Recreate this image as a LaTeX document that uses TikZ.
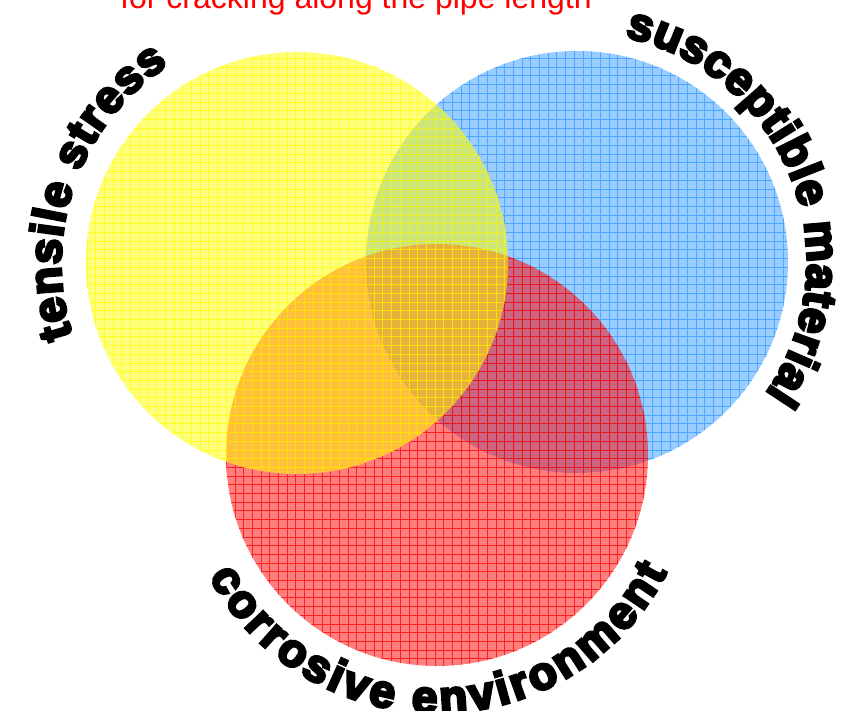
\documentclass[tikz,border=0pt]{standalone}
\usepackage{fontspec}
\setsansfont{Liberation Sans}
\newfontfamily\labelfont{Liberation Sans}[BoldFeatures={FakeBold=6}]
\usetikzlibrary{decorations.text,positioning}
\definecolor{StressYellow}{HTML}{FFFF00}
\definecolor{MaterialBlue}{HTML}{3399FF}
\definecolor{CorrRed}{HTML}{FF0000}

\begin{document}
\begin{tikzpicture}[x=1pt,y=1pt,font=\sffamily,
  zone/.style={circle,minimum size=422pt,inner sep=0pt,fill opacity=0.5},
  mesh/.style={line width=0.8pt,draw opacity=0.75,step=8.7pt},
  arclabel/.style={decorate,decoration={text along path,text align={fit to path},
    text={|\labelfont\bfseries\fontsize{46}{46}\selectfont|#1}}}]
  \useasboundingbox (0,0) rectangle (847,711);
  \clip (0,0) rectangle (847,711);

  % the three conditions
  \node[zone,fill=MaterialBlue] (material) at (577,449) {};
  \begin{scope}
    \clip (material.center) circle[radius=211pt];
    \draw[mesh,MaterialBlue] (0,0) grid (847,711);
  \end{scope}
  \node[zone,fill=CorrRed] (environment) at (437,256) {};
  \begin{scope}
    \clip (environment.center) circle[radius=211pt];
    \draw[mesh,CorrRed] (0,0) grid (847,711);
  \end{scope}
  \node[zone,fill=StressYellow] (stress) at (297,448) {};
  \begin{scope}
    \clip (stress.center) circle[radius=211pt];
    \draw[mesh,StressYellow] (0,0) grid (847,711);
  \end{scope}

  % curved labels
  \path[arclabel=tensile stress] ([shift={(198:236pt)}]stress.center) arc[start angle=198,end angle=123,radius=236pt];
  \path[arclabel=susceptible material] ([shift={(78:230pt)}]material.center) arc[start angle=78,end angle=-35,radius=230pt];
  \path[arclabel=corrosive environment] ([shift={(208:258pt)}]environment.center) arc[start angle=208,end angle=333,radius=258pt];

  \node[text=CorrRed,font=\sffamily\fontsize{32}{32}\selectfont,anchor=base] (note) at (356,702) {for cracking along the pipe length};
\end{tikzpicture}
\end{document}
